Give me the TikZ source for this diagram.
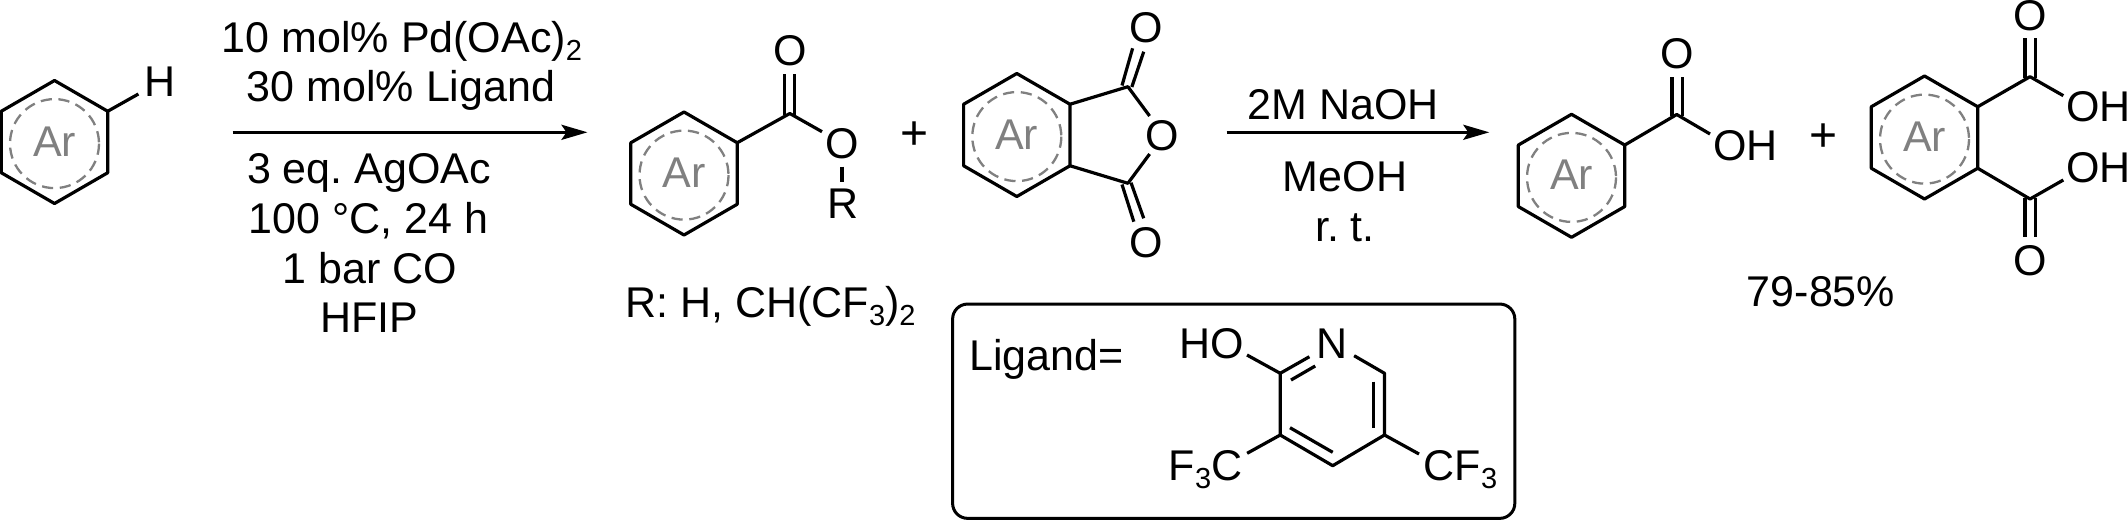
\documentclass[tikz,border=0pt]{standalone}
\usepackage{fontspec}
\setmainfont{Liberation Sans}
\usetikzlibrary{arrows.meta}
\newcommand{\sbs}[1]{\raisebox{-4pt}{\fontsize{14.5}{14.5}\selectfont #1}}
\colorlet{argray}{black!50}
\tikzset{
  x=0.5pt,y=-0.5pt,
  bond/.style={line width=1.6pt,line join=round,line cap=butt,draw=black},
  rxn/.style={line width=1.6pt,draw=black,-{Stealth[length=13pt,width=7.5pt,inset=2.5pt]}},
  lbl/.style={anchor=base,inner sep=0pt,font=\fontsize{21.5}{21.5}\selectfont\frenchspacing,text=black},
  pluslbl/.style={lbl,font=\fontsize{24}{24}\selectfont},
  arlbl/.style={lbl,text=argray},
  dashring/.style={line width=1.15pt,draw=argray,dash pattern=on 5.6pt off 3.3pt},
  framebox/.style={draw=black,line width=1.5pt,rounded corners=7.5pt,inner sep=0pt,minimum width=281.1pt,minimum height=107.15pt}
}
% name, centre x, centre y
\newcommand{\arring}[3]{%
  \coordinate (#1t) at (#2,#3-61.5);
  \coordinate (#1ur) at (#2+53.2,#3-30.75);
  \coordinate (#1lr) at (#2+53.2,#3+30.75);
  \coordinate (#1b) at (#2,#3+61.5);
  \coordinate (#1ll) at (#2-53.2,#3+30.75);
  \coordinate (#1ul) at (#2-53.2,#3-30.75);
  \draw[bond] (#1t) -- (#1ur) -- (#1lr) -- (#1b) -- (#1ll) -- (#1ul) -- cycle;
  \draw[dashring] (#2,#3+1.6) circle[radius=44.5];
  \node[arlbl] (#1lab) at (#2,#3+14) {Ar};
}
\begin{document}
\begin{tikzpicture}
\useasboundingbox (0,0) rectangle (2128,520);
\fill[white] (0,0) rectangle (2128,520);

% substrate
\arring{ra}{54.5}{142}
\node[lbl] (h1) at (160,96.7) {H};
\coordinate (h1e) at (138.4,94);
\draw[bond] (raur) -- (h1e);

% first arrow
\coordinate (a1s) at (232.5,132.3);
\coordinate (a1e) at (587.5,132.3);
\draw[rxn] (a1s) -- (a1e);
\node[lbl] (c1) at (402,52) {10 mol\% Pd(OAc)\sbs{2}};
\node[lbl] (c2) at (401,101) {30 mol\% Ligand};
\node[lbl] (c3) at (369,183) {3 eq. AgOAc};
\node[lbl] (c4) at (368.5,233) {100 °C, 24 h};
\node[lbl] (c5) at (370,283) {1 bar CO};
\node[lbl] (c6) at (369,332) {HFIP};

% ester
\arring{rb}{684}{173.5}
\coordinate (bc) at (789.8,113.5);
\coordinate (bcl) at (784.5,115);
\coordinate (bcr) at (794.8,115);
\coordinate (bol) at (784.5,74);
\coordinate (bor) at (794.8,74);
\coordinate (bs) at (822,131.7);
\coordinate (bs2) at (842,166.7);
\coordinate (br2) at (842,181.7);
\node[lbl] (bo) at (789.8,65.7) {O};
\node[lbl] (bo2) at (842,158) {O};
\node[lbl] (br) at (843,218.3) {R};
\draw[bond] (rbur) -- (bc) -- (bs);
\draw[bond] (bcl) -- (bol);
\draw[bond] (bcr) -- (bor);
\draw[bond] (bs2) -- (br2);
\node[lbl] (rdef) at (770.5,317.7) {R: H, CH(CF\sbs{3})\sbs{2}};

\node[pluslbl] (p1) at (914.3,149.5) {+};

% anhydride
\arring{rc}{1016.8}{135}
\coordinate (cu) at (1127.9,86.7);
\coordinate (cl) at (1127.9,183.3);
\coordinate (coa) at (1149.6,116);
\coordinate (cob) at (1149.6,154);
\coordinate (cd1) at (1122,85.5);
\coordinate (cd2) at (1132.6,48.3);
\coordinate (cd3) at (1131.8,87);
\coordinate (cd4) at (1143.7,51.7);
\coordinate (cd5) at (1122,184.5);
\coordinate (cd6) at (1133.8,221.7);
\coordinate (cd7) at (1131,182.7);
\coordinate (cd8) at (1143.7,218.3);
\node[lbl] (co1) at (1146,42.2) {O};
\node[lbl] (co2) at (1162.7,150) {O};
\node[lbl] (co3) at (1146,257) {O};
\draw[bond] (rcur) -- (cu) -- (coa);
\draw[bond] (rclr) -- (cl) -- (cob);
\draw[bond] (cd1) -- (cd2);
\draw[bond] (cd3) -- (cd4);
\draw[bond] (cd5) -- (cd6);
\draw[bond] (cd7) -- (cd8);

% second arrow
\coordinate (a2s) at (1226.7,132.3);
\coordinate (a2e) at (1489.3,132.3);
\draw[rxn] (a2s) -- (a2e);
\node[lbl] (d1) at (1343.3,119) {2M NaOH};
\node[lbl] (d2) at (1345,191.7) {MeOH};
\node[lbl] (d3) at (1345,241.3) {r. t.};

% acid
\arring{rd}{1571.5}{175.8}
\coordinate (dc) at (1676.7,114.5);
\coordinate (dcl) at (1672,116);
\coordinate (dcr) at (1682.3,116);
\coordinate (dol) at (1672,77.3);
\coordinate (dor) at (1682.3,77.3);
\coordinate (dh) at (1710,134);
\node[lbl] (do) at (1676.7,68.8) {O};
\node[lbl] (doh) at (1745.3,160.7) {OH};
\draw[bond] (rdur) -- (dc) -- (dh);
\draw[bond] (dcl) -- (dol);
\draw[bond] (dcr) -- (dor);

\node[pluslbl] (p2) at (1823.3,151.5) {+};

% phthalic acid
\arring{re}{1924.5}{137.5}
\coordinate (eu) at (2030,76.7);
\coordinate (el) at (2030,199);
\coordinate (eul) at (2025,78);
\coordinate (eur) at (2035.7,78);
\coordinate (eutl) at (2025,38.3);
\coordinate (eutr) at (2035.7,38.3);
\coordinate (ell) at (2025,197.5);
\coordinate (elr) at (2035.7,197.5);
\coordinate (eltl) at (2025,236.7);
\coordinate (eltr) at (2035.7,236.7);
\coordinate (eh1) at (2063.3,95.7);
\coordinate (eh2) at (2063.3,180);
\node[lbl] (eo1) at (2030,30) {O};
\node[lbl] (eo2) at (2030,275) {O};
\node[lbl] (eoh1) at (2098.5,121.7) {OH};
\node[lbl] (eoh2) at (2098.5,182.7) {OH};
\draw[bond] (reur) -- (eu) -- (eh1);
\draw[bond] (relr) -- (el) -- (eh2);
\draw[bond] (eul) -- (eutl);
\draw[bond] (eur) -- (eutr);
\draw[bond] (ell) -- (eltl);
\draw[bond] (elr) -- (eltr);

\node[lbl] (yield) at (1821,306.7) {79-85\%};

% ligand box
\node[framebox] (box) at (1233.7,411.2) {};
\node[lbl] (lg) at (1046.3,370) {Ligand=};
\node[lbl] (lho) at (1211.7,358.3) {HO};
\node[lbl] (ln) at (1332.4,358.3) {N};
\node[lbl] (lf1) at (1205.5,480) {F\sbs{3}C};
\node[lbl] (lf2) at (1460.5,480) {CF\sbs{3}};
\coordinate (l2) at (1280.2,373.3);
\coordinate (l3) at (1280.2,435);
\coordinate (l4) at (1332.7,465.7);
\coordinate (l5) at (1384.5,435);
\coordinate (l6) at (1384.5,373.3);
\coordinate (ln1) at (1309.4,356.7);
\coordinate (ln2) at (1354.1,355.7);
\coordinate (li1) at (1291,380);
\coordinate (li2) at (1315.2,366);
\coordinate (li3) at (1373.6,381.7);
\coordinate (li4) at (1373.6,428.3);
\coordinate (li5) at (1290,427.7);
\coordinate (li6) at (1332.7,452.3);
\coordinate (lb1) at (1247,355);
\coordinate (lb2) at (1247.1,453.3);
\coordinate (lb3) at (1419,454);
\draw[bond] (ln1) -- (l2) -- (l3) -- (l4) -- (l5) -- (l6) -- (ln2);
\draw[bond] (li1) -- (li2);
\draw[bond] (li3) -- (li4);
\draw[bond] (li5) -- (li6);
\draw[bond] (l2) -- (lb1);
\draw[bond] (l3) -- (lb2);
\draw[bond] (l5) -- (lb3);
\end{tikzpicture}
\end{document}
